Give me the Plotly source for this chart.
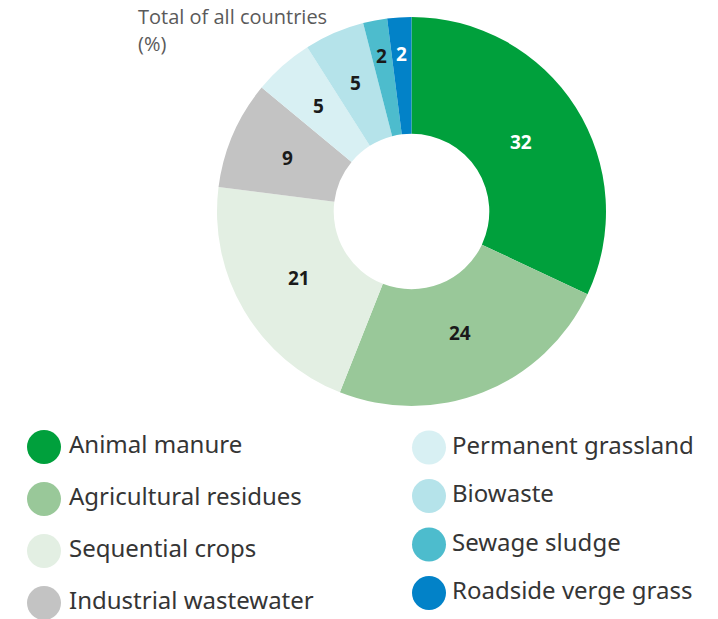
import math
import plotly.graph_objects as go

categories = ["Animal manure", "Agricultural residues", "Sequential crops",
              "Industrial wastewater", "Permanent grassland", "Biowaste",
              "Sewage sludge", "Roadside verge grass"]
values = [32, 24, 21, 9, 5, 5, 2, 2]
colors = ["#00a03c", "#99c899", "#e3efe3", "#c3c3c3",
          "#d8f0f3", "#b5e3ea", "#4dbccd", "#0282c8"]
label_colors = ["#ffffff", "#1a1a1a", "#1a1a1a", "#1a1a1a",
                "#1a1a1a", "#1a1a1a", "#1a1a1a", "#ffffff"]
title_lines = ["Total of all countries", "(%)"]

W, H = 718, 619

fig = go.Figure()

# donut
cx, cy, R = 411.5, 211.5, 194.5
HOLE = 0.4
fig.add_trace(go.Pie(
    labels=categories, values=values, sort=False, direction="clockwise",
    rotation=0, hole=HOLE,
    marker=dict(colors=colors, line=dict(width=0)),
    textinfo="none",
    domain=dict(x=[(cx - R) / W, (cx + R) / W], y=[1 - (cy + R) / H, 1 - (cy - R) / H]),
    showlegend=False, hoverinfo="label+value",
))

# slice value labels, positioned from the values (pixel-scaled hidden axes)
total = sum(values)
r_mid = R * (1 + HOLE) / 2
cum = 0
for v, col in zip(values, label_colors):
    theta = 2 * math.pi * (cum + v / 2) / total
    r = r_mid - 8 + 60 / v
    fig.add_annotation(
        x=cx + r * math.sin(theta), y=cy - r * math.cos(theta),
        xref="x", yref="y", showarrow=False, text=str(v),
        xanchor="center", yanchor="middle",
        font=dict(family="Open Sans", size=19, color=col, weight="bold"),
    )
    cum += v

# custom two-column legend on a hidden pixel-scaled axis
col_x = [44, 429]
row0 = [447, 447.5]
row_step = [52, 48.5]
text_dx = [25, 23]
lx, ly, tx = [], [], []
for i, name in enumerate(categories):
    c, r = i // 4, i % 4
    lx.append(col_x[c])
    ly.append(row0[c] + r * row_step[c])
    tx.append(col_x[c] + text_dx[c])

fig.add_trace(go.Scatter(
    x=lx, y=ly, mode="markers",
    marker=dict(size=34, color=colors, line=dict(width=0)),
    showlegend=False, hoverinfo="skip",
))
fig.add_trace(go.Scatter(
    x=tx, y=ly, mode="text", text=categories, textposition="middle right",
    textfont=dict(family="Noto Sans", size=24, color="#353535"),
    showlegend=False, hoverinfo="skip",
))

for k, line in enumerate(title_lines):
    fig.add_annotation(
        x=136, y=16 + 27 * k, xref="x", yref="y",
        xanchor="left", yanchor="middle", align="left", showarrow=False,
        text=line,
        font=dict(family="Open Sans", size=20, color="#5a5a5a"),
    )

fig.update_layout(
    width=W, height=H, margin=dict(l=0, r=0, t=0, b=0),
    paper_bgcolor="white", plot_bgcolor="rgba(0,0,0,0)",
    xaxis=dict(range=[0, W], visible=False, fixedrange=True, domain=[0, 1]),
    yaxis=dict(range=[H, 0], visible=False, fixedrange=True, domain=[0, 1]),
)

fig.write_html("out.html", config={"displayModeBar": False},
               post_script="document.body.style.margin='0';document.body.style.overflow='hidden';")
